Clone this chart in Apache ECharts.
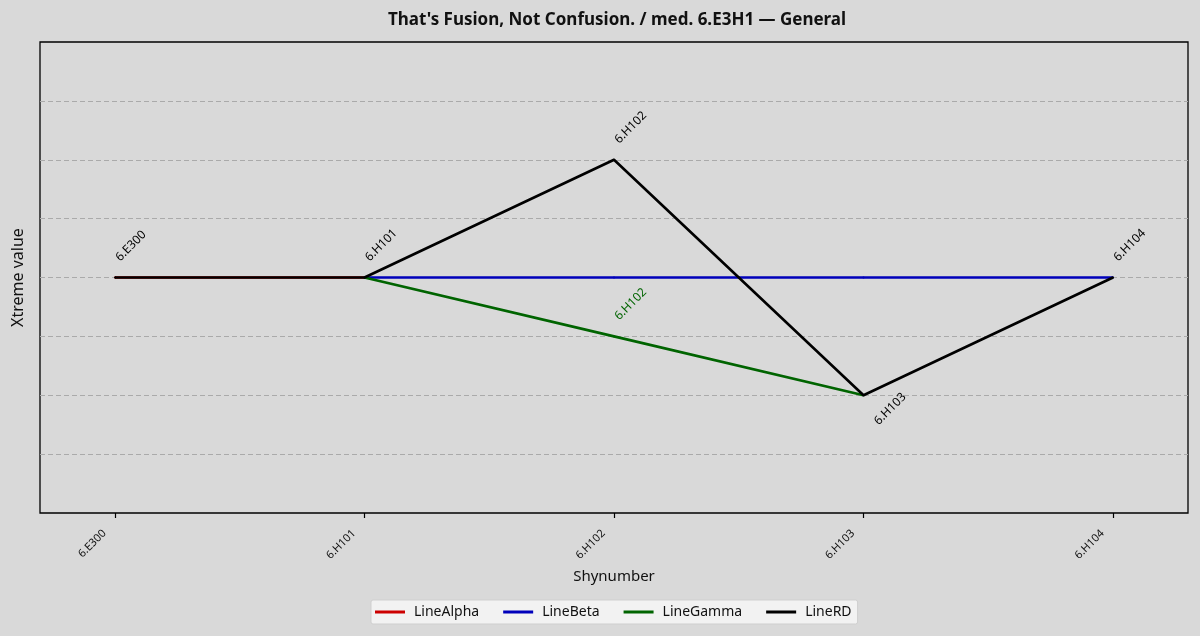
<!DOCTYPE html>
<html>
<head>
<meta charset="utf-8">
<script src="https://cdn.jsdelivr.net/npm/echarts@6/dist/echarts.min.js"></script>
<style>
  html, body { margin: 0; padding: 0; background: #d9d9d9; }
  #container { width: 1200px; height: 636px; }
</style>
</head>
<body>
<div id="container"></div>
<script>
var categories = ['6.E300', '6.H101', '6.H102', '6.H103', '6.H104'];
var seriesNames = ['LineAlpha', 'LineBeta', 'LineGamma', 'LineRD'];
var seriesColors = ['#cc0000', '#0000bb', '#006400', '#000000'];
var alphaValues = [0, 0, null, null, null];
var betaValues = [null, 0, 0, 0, 0];
var gammaValues = [null, 0, -1, -2, null];
var rdValues = [0, 0, 2, -2, 0];
// which points carry a text label
var gammaLabels = [false, false, true, false, false];
var rdLabels = [true, true, true, true, true];

var FONT = '"Noto Sans", "DejaVu Sans", sans-serif';

function buildData(values, labels, color) {
    var out = [];
    var low = Math.min.apply(null, values.filter(function (x) { return x != null; }));
    for (var i = 0; i < values.length; i++) {
        var v = values[i];
        var item = { value: v };
        if (labels && labels[i] && v != null) {
            // label sits below the point when it is the lowest one of the line
            var below = v === low && v < 0;
            item.label = {
                show: true,
                formatter: categories[i],
                position: below ? [18, 33] : [8, -13],
                rotate: 45,
                align: 'left',
                verticalAlign: 'bottom',
                color: color,
                fontSize: 12,
                fontFamily: FONT
            };
        }
        out.push(item);
    }
    return out;
}

var valueSets = [alphaValues, betaValues, gammaValues, rdValues];
var labelSets = [null, null, gammaLabels, rdLabels];

var series = [];
for (var s = 0; s < seriesNames.length; s++) {
    series.push({
        name: seriesNames[s],
        type: 'line',
        xAxisIndex: 1,
        yAxisIndex: 1,
        data: buildData(valueSets[s], labelSets[s], seriesColors[s]),
        symbol: 'circle',
        symbolSize: 2,
        showSymbol: true,
        connectNulls: false,
        itemStyle: { color: seriesColors[s] },
        lineStyle: { color: seriesColors[s], width: 2.6 },
        label: { show: false },
        emphasis: { disabled: true },
        z: 2 + s
    });
}

var dom = document.getElementById('container');
var myChart = echarts.init(dom);
var option = {
    backgroundColor: '#d9d9d9',
    animation: false,
    textStyle: { fontFamily: FONT },
    title: {
        text: "That's Fusion, Not Confusion. / med. 6.E3H1 \u2014 General",
        left: 612,
        top: 7,
        textAlign: 'center',
        textStyle: { fontSize: 17, fontWeight: 'bold', color: '#111', fontFamily: FONT }
    },
    legend: {
        data: seriesNames,
        bottom: 12,
        left: 371,
        icon: 'rect',
        itemWidth: 30,
        itemHeight: 3,
        itemGap: 24,
        padding: [5, 6, 5, 4],
        backgroundColor: '#f2f2f2',
        borderColor: '#cfcfcf',
        borderWidth: 1,
        borderRadius: 2,
        textStyle: { fontSize: 14, color: '#111', fontFamily: FONT, padding: [0, 0, 0, 4] }
    },
    grid: [
        { left: 40, right: 12, top: 42, bottom: 123, show: true, borderColor: '#000', borderWidth: 1.3, backgroundColor: 'transparent' },
        { left: 115, right: 87, top: 42, bottom: 123 }
    ],
    xAxis: [
        { gridIndex: 0, type: 'category', data: categories, show: false },
        {
            gridIndex: 1,
            type: 'category',
            data: categories,
            boundaryGap: false,
            name: 'Shynumber',
            nameLocation: 'middle',
            nameGap: 56,
            nameTextStyle: { fontSize: 15, color: '#111', fontFamily: FONT },
            axisLine: { show: false, onZero: false },
            axisTick: { show: true, length: 5, interval: 0, lineStyle: { color: '#000', width: 1.2 } },
            axisLabel: { rotate: 45, interval: 0, fontSize: 11, color: '#111', margin: 8, padding: [0, 15, 8, 0], fontFamily: FONT },
            splitLine: { show: false }
        }
    ],
    yAxis: [
        {
            gridIndex: 0,
            type: 'value',
            min: -4,
            max: 4,
            interval: 1,
            name: 'Xtreme value',
            nameLocation: 'middle',
            nameGap: 14,
            nameTextStyle: { fontSize: 16, color: '#111', fontFamily: FONT },
            axisLine: { show: false },
            axisTick: { show: false },
            axisLabel: { show: false },
            splitLine: { show: true, showMinLine: false, showMaxLine: false, lineStyle: { color: '#aaaaaa', type: [5, 3], width: 1 } }
        },
        { gridIndex: 1, type: 'value', min: -4, max: 4, interval: 1, show: false, splitLine: { show: false } }
    ],
    series: series
};
myChart.setOption(option);
</script>
</body>
</html>
